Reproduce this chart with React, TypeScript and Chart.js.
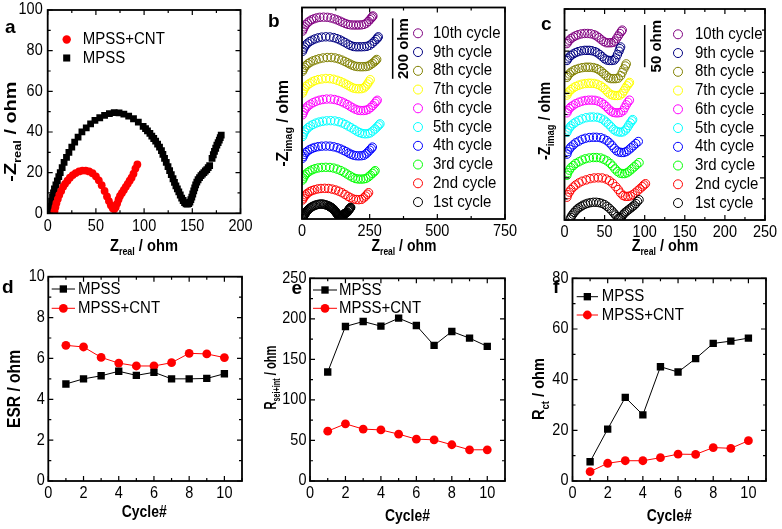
import React, { useEffect, useRef } from "react";
import { Chart, registerables } from "chart.js";

Chart.register(...registerables);

const FONT = "'Liberation Sans', Arial, Helvetica, sans-serif";
const PAGE_W = 782;
const PAGE_H = 529;

// ---------------- Panel a : Nyquist, first cycle ----------------
const A_MPSS_X = [2, 3, 4, 5, 6, 7, 8.5, 10, 11.5, 13, 15, 17, 19.5, 22, 25, 28, 31.5, 35.5, 40, 44.5, 49, 54, 59, 64, 69, 74, 79, 84, 89, 94, 99, 101.5, 103.5, 106, 108, 110, 112, 114, 116, 118, 119.5, 121.2, 123, 124.8, 126.5, 128.2, 130, 131.5, 133, 134.5, 136, 137.5, 139, 140.5, 142, 143.5, 145, 146.3, 147.5, 148.5, 149.5, 150.5, 151.5, 152.5, 153.5, 154.7, 156, 157.5, 159, 160.5, 162, 163.5, 165, 166.5, 168, 170.5, 171.8, 173, 174.3, 175.5, 176.8, 178, 179, 180];
const A_MPSS_Y = [1.5, 3.5, 6, 8, 10, 12, 14, 16, 18, 20, 22.5, 25, 27.5, 30, 32.5, 35, 37.5, 40, 42, 44, 45.7, 47, 48.2, 49, 49.5, 49.4, 48.8, 47.8, 46.5, 44.8, 42.8, 41.7, 40.5, 39.3, 38, 36.8, 35.5, 34, 32.5, 30.8, 29, 27, 25, 23, 21, 19, 17, 15.2, 13.5, 12, 10.5, 9, 7.5, 6.3, 5.3, 4.7, 4.5, 4.8, 5.5, 6.7, 8, 9.5, 11, 12.5, 14, 15.3, 16.5, 17.5, 18.5, 19.3, 20, 20.8, 21.5, 22.5, 23.5, 27, 28.8, 30.5, 32, 33.5, 34.8, 36, 37.2, 38.5];
const A_CNT_X = [7, 8, 9, 10.5, 12, 14, 16, 18, 20.5, 23, 26, 29, 32.5, 36, 39.5, 43, 46.5, 50, 53, 56, 59, 61.5, 63.5, 65.5, 67.5, 69, 70.5, 72, 73.5, 75, 77, 79, 81, 83, 85, 87, 89, 91, 93];
const A_CNT_Y = [1, 3, 5, 7, 9, 11, 13, 14.5, 16, 17.5, 18.8, 19.8, 20.6, 21, 21, 20.6, 19.7, 18.2, 16.2, 13.8, 11, 8.3, 6, 4, 2.5, 2, 3, 4.8, 6.8, 8.5, 10, 11.5, 13, 14.5, 16, 17.5, 19.5, 22, 24];

// ---------------- Panels b, c : cycles ----------------
const CYCLE_LABELS = ["1st cycle", "2nd cycle", "3rd cycle", "4th cycle", "5th cycle", "6th cycle", "7th cycle", "8th cycle", "9th cycle", "10th cycle"];
const CYCLE_COLORS = ["#000000", "#ff0000", "#00ff00", "#0000ff", "#00ffff", "#ff00ff", "#ffff00", "#808000", "#000080", "#800080"];

// vertical display offsets (ohm) used to stack the cycles
const B_OFFSETS = [0, 61, 127, 199, 271, 343, 415, 487, 553, 620];
const C_OFFSETS = [0, 26, 52, 77, 103, 126, 147, 168, 188, 208];

// panel b (MPSS), cycles 2..10 (cycle 1 = A_MPSS)
const B2_X = [2, 5, 9, 14, 20, 28, 37, 47, 58, 70, 84, 98, 111, 124, 136, 148, 159, 170, 180, 190, 200, 210, 220, 228, 235, 241, 246];
const B2_Y = [2, 8, 14, 19, 24, 29, 33, 36, 38.5, 40, 40.5, 40, 38, 35, 31, 26, 20, 14, 9, 5, 3.5, 3, 4, 9, 15, 21, 26];
const B3_X = [2, 5, 9, 14, 21, 29, 38, 48, 60, 73, 88, 103, 117, 130, 143, 155, 166, 177, 187, 197, 207, 217, 227, 236, 245, 253, 260, 266, 270];
const B3_Y = [2, 8, 15, 21, 27, 32, 36, 39.5, 42, 43.5, 44, 43.5, 41.5, 38, 33.5, 28, 22, 16, 11, 7, 5.5, 5, 5.5, 7, 12, 18, 24, 29, 33];
const B4_X = [2, 5, 9, 14, 21, 29, 38, 48, 60, 73, 88, 103, 117, 130, 142, 153, 163, 173, 182, 191, 200, 210, 220, 229, 237, 244, 250, 256, 260];
const B4_Y = [2, 8, 15, 21, 26, 31, 35, 38, 40.5, 42, 42.5, 42, 40, 37, 33, 28.5, 24, 19, 15, 12, 10.5, 10, 10.5, 12, 17, 23, 29, 34, 39];
const B5_X = [2, 5, 9, 15, 22, 31, 41, 52, 64, 77, 91, 106, 121, 135, 148, 160, 171, 182, 193, 203, 213, 223, 233, 243, 252, 261, 270, 278, 284, 288];
const B5_Y = [2, 9, 17, 24, 31, 37, 42, 46.5, 50, 52.5, 54, 54.5, 53.5, 51, 47, 42, 36.5, 31, 25, 19.5, 15, 12, 11, 11.5, 14, 20, 27, 34, 40, 44];
const B6_X = [2, 5, 9, 15, 22, 31, 41, 52, 64, 77, 91, 106, 120, 133, 145, 156, 167, 177, 187, 197, 207, 217, 227, 236, 245, 254, 262, 269, 274, 278];
const B6_Y = [2, 9, 17, 24, 31, 37, 42, 46.5, 50, 52.5, 54, 54, 52.5, 49.5, 45.5, 41, 36, 30.5, 25, 20.5, 17, 16, 16, 17, 20, 26, 33, 40, 46, 50];
const B7_X = [2, 5, 9, 14, 21, 29, 38, 48, 60, 73, 88, 103, 117, 130, 142, 153, 163, 173, 182, 191, 200, 210, 220, 229, 236, 242, 247, 252];
const B7_Y = [2, 9, 16, 23, 29, 34, 39, 43, 46.5, 48.5, 50, 49.5, 47.5, 44, 40, 35.5, 31, 26, 21.5, 18, 16.5, 16, 16.5, 19, 25, 32, 39, 46];
const B8_X = [2, 5, 9, 15, 22, 31, 41, 52, 64, 78, 93, 108, 122, 135, 147, 158, 168, 177, 186, 195, 205, 215, 225, 235, 244, 252, 260, 267, 272, 276];
const B8_Y = [2, 8, 15, 21, 27, 32, 36.5, 40, 43.5, 46, 47.5, 47.5, 46, 43, 39, 34.5, 30, 26, 22, 19, 17.5, 17, 17, 17.5, 19, 23, 28, 33, 37, 41];
const B9_X = [2, 5, 9, 14, 21, 29, 38, 48, 60, 73, 88, 103, 117, 129, 140, 150, 160, 170, 180, 190, 200, 210, 220, 230, 240, 250, 259, 267, 274, 279, 282];
const B9_Y = [2, 9, 16, 23, 29, 34.5, 39, 43, 46.5, 49, 50, 49.5, 47.5, 44, 40, 35.5, 30.5, 25.5, 21, 18, 17, 17, 17, 17.5, 18.5, 22, 28, 35, 41, 46, 50];
const B10_X = [2, 5, 9, 14, 20, 27, 35, 44, 54, 66, 80, 94, 107, 119, 130, 140, 150, 160, 170, 180, 190, 200, 210, 220, 229, 238, 245, 251, 256, 260, 262];
const B10_Y = [2, 9, 16, 23, 29, 34.5, 39, 42.5, 45.5, 47.5, 48, 47.5, 45.5, 42.5, 39, 35, 31, 27, 24, 22.5, 22, 22, 22, 22.5, 24, 28, 34, 40, 45, 49, 52];

// panel c (MPSS+CNT), cycles 2..10 (cycle 1 = A_CNT)
const C2_X = [3, 4, 6, 8, 11, 14, 18, 22, 27, 32, 37, 42, 47, 52, 56, 60, 64, 67, 70, 73, 76, 79, 82, 85, 88, 91, 94, 97, 99, 101];
const C2_Y = [1, 4, 7, 10, 13, 15.5, 18, 20, 21.5, 23, 23.8, 24, 23.8, 22.5, 20.5, 17.5, 13.5, 10, 6, 3, 2, 2, 2.5, 4, 6, 8.5, 11, 13.5, 15.5, 17];
const C3_X = [3, 4, 6, 8, 11, 14, 18, 22, 26, 31, 36, 40, 45, 49, 53, 57, 60, 63, 66, 69, 72, 75, 78, 81, 84, 87, 90, 93];
const C3_Y = [1, 4, 7, 10, 12.5, 15, 17, 19, 20.5, 21.5, 22, 22, 21.5, 20, 18, 15, 12, 8.5, 5.5, 3.5, 3, 3, 4, 6, 8.5, 11, 13.5, 16];
const C4_X = [3, 4, 6, 8, 11, 14, 18, 22, 26, 31, 36, 40, 45, 49, 53, 56, 59, 62, 65, 68, 71, 74, 77, 80, 83, 86, 89, 92];
const C4_Y = [1, 4, 7, 9.5, 12, 14.5, 16.5, 18.5, 19.8, 20.7, 21, 21, 20.5, 19, 17, 14.5, 11.5, 8, 5, 3.5, 3, 3, 4, 6, 8.5, 11, 13.5, 16];
const C5_X = [3, 4, 6, 8, 11, 14, 18, 22, 27, 32, 36, 41, 45, 49, 52, 55, 58, 61, 64, 67, 70, 73, 76, 78, 80, 82, 84, 85];
const C5_Y = [1, 3.5, 6, 8.5, 11, 13, 15, 16.8, 18.2, 18.9, 19, 18.7, 17.5, 15.5, 13, 10.5, 7.5, 4.5, 2.5, 1.5, 1, 1.5, 3.5, 6, 9, 12, 14.5, 16];
const C6_X = [3, 4, 6, 8, 11, 14, 18, 22, 26, 30, 34, 38, 42, 46, 49, 52, 55, 58, 61, 64, 67, 70, 73, 75, 77, 79, 81];
const C6_Y = [1, 3.5, 6, 8, 10, 11.8, 13.5, 14.8, 15.6, 16, 16, 15.8, 14.8, 13, 11, 8.5, 5.5, 3, 1.5, 1, 1, 1.5, 3.5, 7, 10.5, 13.5, 16];
const C7_X = [3, 4, 6, 8, 11, 14, 18, 22, 26, 30, 33, 37, 41, 45, 48, 51, 54, 57, 60, 63, 66, 69, 72, 74, 76, 78, 80, 81];
const C7_Y = [1, 3.5, 5.5, 7.5, 9.5, 11.2, 12.8, 14, 14.7, 15, 15, 14.8, 13.8, 12, 10, 7.5, 4.5, 2, 1, 0.5, 0.5, 1, 3, 6, 9, 12, 14.5, 16];
const C8_X = [3, 4, 6, 8, 11, 14, 18, 22, 26, 29, 32, 36, 40, 43, 46, 49, 52, 55, 58, 61, 64, 67, 70, 72, 74, 76, 77];
const C8_Y = [1, 3, 5, 7, 8.8, 10.3, 11.6, 12.5, 13, 13, 13, 12.6, 11.5, 10, 8, 5.5, 3, 0.5, -0.5, -0.5, -0.5, 0, 3, 7, 11, 14.5, 17];
const C9_X = [3, 4, 6, 8, 11, 14, 17, 21, 25, 28, 31, 34, 38, 41, 44, 47, 50, 53, 56, 59, 62, 64, 66, 68, 69, 70];
const C9_Y = [1, 3, 5, 7, 8.8, 10.3, 11.5, 12.5, 13, 13, 13, 12.6, 11.5, 10, 8, 5.5, 3, 1.5, 1, 1, 1.5, 4, 8, 12, 15, 17];
const C10_X = [3, 4, 6, 8, 11, 14, 17, 21, 25, 29, 33, 37, 40, 43, 46, 49, 52, 55, 58, 61, 63, 65, 67, 69, 71, 72];
const C10_Y = [1, 3, 5, 7, 8.8, 10.3, 11.5, 12.5, 13, 13, 12.6, 11.5, 10, 8, 5.5, 3.5, 2, 2, 2, 2.5, 4, 7, 10, 13, 15.5, 17];

// ---------------- Panels d, e, f : fitted values vs cycle ----------------
const CYCLES = [1, 2, 3, 4, 5, 6, 7, 8, 9, 10];
const ESR_MPSS = [4.75, 5.0, 5.15, 5.37, 5.17, 5.32, 5.0, 5.0, 5.02, 5.25];
const ESR_CNT = [6.64, 6.56, 6.05, 5.77, 5.63, 5.63, 5.79, 6.25, 6.22, 6.04];
const RSEI_MPSS = [134.4, 190.6, 196.7, 191, 200.8, 191.8, 167.2, 184.4, 176.2, 166];
const RSEI_CNT = [61.5, 70.5, 64, 63, 57.8, 51.6, 50.8, 44.7, 38.5, 38.5];
const RCT_MPSS = [7.6, 20.5, 33, 26.1, 45.1, 43, 48.3, 54.3, 55.2, 56.4];
const RCT_CNT = [3.7, 7, 8, 8, 9.2, 10.6, 10.5, 13.2, 12.9, 15.9];

// scale bars (ohm)
const B_BAR = { x: 335, top: 664, len: 200, label: "200 ohm" };
const C_BAR = { x: 100, top: 231, len: 50, label: "50 ohm" };

// ---------------- helpers ----------------
const pts = (xs: number[], ys: number[], off = 0) => {
  const n = Math.min(xs.length, ys.length);
  const out: { x: number; y: number }[] = [];
  for (let i = 0; i < n; i++) out.push({ x: xs[i], y: ys[i] + off });
  return out;
};

const B_XS = [A_MPSS_X, B2_X, B3_X, B4_X, B5_X, B6_X, B7_X, B8_X, B9_X, B10_X];
const B_YS = [A_MPSS_Y, B2_Y, B3_Y, B4_Y, B5_Y, B6_Y, B7_Y, B8_Y, B9_Y, B10_Y];
const C_XS = [A_CNT_X, C2_X, C3_X, C4_X, C5_X, C6_X, C7_X, C8_X, C9_X, C10_X];
const C_YS = [A_CNT_Y, C2_Y, C3_Y, C4_Y, C5_Y, C6_Y, C7_Y, C8_Y, C9_Y, C10_Y];

type Seg = { t: string; sub?: boolean };

// draws bold text with optional subscripts; "len" fits the text to a given length
function drawRich(ctx: CanvasRenderingContext2D, segs: Seg[], x: number, y: number, size: number, rotate: boolean, len?: number) {
  ctx.save();
  ctx.translate(x, y);
  if (rotate) ctx.rotate(-Math.PI / 2);
  const mainF = `bold ${size}px ${FONT}`;
  const subF = `bold ${Math.round(size * 0.62)}px ${FONT}`;
  let total = 0;
  const widths = segs.map((s) => {
    ctx.font = s.sub ? subF : mainF;
    const w = ctx.measureText(s.t).width;
    total += w;
    return w;
  });
  if (len) ctx.scale(len / total, 1);
  let cx = -total / 2;
  ctx.fillStyle = "#000";
  ctx.textBaseline = "middle";
  ctx.textAlign = "left";
  segs.forEach((s, i) => {
    ctx.font = s.sub ? subF : mainF;
    ctx.fillText(s.t, cx, s.sub ? size * 0.36 : 0);
    cx += widths[i];
  });
  ctx.restore();
}

function drawMarker(ctx: CanvasRenderingContext2D, style: string, x: number, y: number, r: number, color: string, filled: boolean) {
  ctx.save();
  ctx.beginPath();
  if (style === "rect") {
    const s = r * Math.SQRT1_2;
    ctx.rect(x - s, y - s, 2 * s, 2 * s);
  } else {
    ctx.arc(x, y, r, 0, Math.PI * 2);
  }
  if (filled) {
    ctx.fillStyle = color;
    ctx.fill();
  } else {
    ctx.strokeStyle = color;
    ctx.lineWidth = 1;
    ctx.stroke();
  }
  ctx.restore();
}

// plain text, vertically stretched by sy
function text(ctx: CanvasRenderingContext2D, s: string, x: number, y: number, font: string, align: CanvasTextAlign = "left", sy = 1) {
  ctx.save();
  ctx.translate(x, y);
  ctx.scale(1, sy);
  ctx.font = font;
  ctx.fillStyle = "#000";
  ctx.textBaseline = "middle";
  ctx.textAlign = align;
  ctx.fillText(s, 0, 0);
  ctx.restore();
}

const LEG_FONT = `15px ${FONT}`;
const LEG_SY = 1.1;

function lineLegend(ctx: CanvasRenderingContext2D, chart: any, x1: number, x2: number, tx: number, ys: number[]) {
  chart.data.datasets.forEach((ds: any, i: number) => {
    const y = ys[i];
    ctx.save();
    ctx.strokeStyle = ds.borderColor;
    ctx.lineWidth = 1;
    ctx.beginPath();
    ctx.moveTo(x1, y);
    ctx.lineTo(x2, y);
    ctx.stroke();
    ctx.restore();
    drawMarker(ctx, ds.pointStyle, (x1 + x2) / 2, y, ds.pointRadius, ds.pointBackgroundColor, true);
    text(ctx, ds.label, tx, y, LEG_FONT, "left", LEG_SY);
  });
}

function cycleLegend(ctx: CanvasRenderingContext2D, chart: any, mx: number, tx: number, y0: number, step: number) {
  const n = chart.data.datasets.length;
  for (let k = 0; k < n; k++) {
    const ds = chart.data.datasets[n - 1 - k];
    const y = y0 + k * step;
    drawMarker(ctx, "circle", mx, y, 4.5, ds.pointBorderColor, false);
    text(ctx, ds.label, tx, y, LEG_FONT, "left", LEG_SY);
  }
}

function scaleBar(ctx: CanvasRenderingContext2D, chart: any, bar: any, tx: number) {
  const xs = chart.scales.x;
  const ys = chart.scales.y;
  const px = xs.getPixelForValue(bar.x);
  const p1 = ys.getPixelForValue(bar.top);
  const p2 = ys.getPixelForValue(bar.top - bar.len);
  ctx.save();
  ctx.strokeStyle = "#000";
  ctx.lineWidth = 1.5;
  ctx.beginPath();
  ctx.moveTo(px, p1);
  ctx.lineTo(px, p2);
  ctx.stroke();
  ctx.restore();
  drawRich(ctx, [{ t: bar.label }], tx, (p1 + p2) / 2, 15, true);
}

type AxisSpec = { min: number; max: number; step: number; major: number; minor: number; labels: boolean; ticks: boolean };

type PanelSpec = {
  id: string;
  area: [number, number, number, number];
  x: AxisSpec;
  y: AxisSpec;
  yPad: number;
  datasets: any[];
  extra: (ctx: CanvasRenderingContext2D, chart: any) => void;
};

const TICK_FONT = `14.5px ${FONT}`;
const TICK_SY = 1.12;

const framePlugin = (spec: PanelSpec) => ({
  id: "frame_" + spec.id,
  afterDatasetsDraw(chart: any) {
    const { ctx, chartArea, scales } = chart;
    const { left, top, right, bottom } = chartArea;
    ctx.save();
    ctx.strokeStyle = "#000";
    ctx.lineWidth = 1.2;
    const drawTicks = (a: AxisSpec, isX: boolean) => {
      const sc = isX ? scales.x : scales.y;
      if (a.ticks) {
        const n = Math.round((a.max - a.min) / a.minor);
        for (let i = 0; i <= n; i++) {
          const v = a.min + i * a.minor;
          const q = v / a.major;
          const major = Math.abs(q - Math.round(q)) < 1e-6;
          const len = major ? 5 : 3;
          const p = sc.getPixelForValue(v);
          ctx.beginPath();
          if (isX) {
            ctx.moveTo(p, bottom);
            ctx.lineTo(p, bottom - len);
            ctx.moveTo(p, top);
            ctx.lineTo(p, top + len);
          } else {
            ctx.moveTo(left, p);
            ctx.lineTo(left + len, p);
            ctx.moveTo(right, p);
            ctx.lineTo(right - len, p);
          }
          ctx.stroke();
        }
      }
      if (a.labels) {
        const n = Math.floor((a.max - a.min) / a.step + 1e-9);
        for (let i = 0; i <= n; i++) {
          const v = a.min + i * a.step;
          const p = sc.getPixelForValue(v);
          const s = String(Math.round(v * 1000) / 1000);
          if (isX) text(ctx, s, p, bottom + 13, TICK_FONT, "center", TICK_SY);
          else text(ctx, s, left - spec.yPad, p, TICK_FONT, "right", TICK_SY);
        }
      }
    };
    drawTicks(spec.x, true);
    drawTicks(spec.y, false);
    ctx.lineWidth = 1.8;
    ctx.strokeRect(left, top, right - left, bottom - top);
    ctx.restore();
  },
  afterDraw(chart: any) {
    spec.extra(chart.ctx, chart);
  },
});

function buildChart(canvas: HTMLCanvasElement, spec: PanelSpec) {
  const [l, t, r, b] = spec.area;
  const YW = 44;
  const XH = 30;
  const axis = (a: AxisSpec, isX: boolean) => ({
    type: "linear",
    position: isX ? "bottom" : "left",
    min: a.min,
    max: a.max,
    grid: { display: false, drawTicks: false },
    border: { display: false },
    ticks: { display: false, stepSize: a.step },
    afterFit: (s: any) => {
      if (isX) s.height = XH;
      else s.width = YW;
    },
  });
  return new Chart(canvas, {
    type: "scatter",
    data: { datasets: spec.datasets },
    options: {
      animation: false,
      responsive: false,
      events: [],
      layout: { padding: { left: l - YW, top: t, right: PAGE_W - r, bottom: PAGE_H - b - XH } },
      plugins: { legend: { display: false }, tooltip: { enabled: false } },
      scales: { x: axis(spec.x, true) as any, y: axis(spec.y, false) as any },
    },
    plugins: [framePlugin(spec)],
  } as any);
}

const scatterSet = (label: string, data: any[], style: string, r: number, color: string) => ({
  label,
  data,
  showLine: false,
  pointStyle: style,
  pointRadius: r,
  pointBackgroundColor: color,
  pointBorderColor: color,
  pointBorderWidth: 0,
});

const cycleSets = (xs: number[][], ys: number[][], offs: number[]) =>
  CYCLE_LABELS.map((label, i) => ({
    label,
    data: pts(xs[i], ys[i], offs[i]),
    showLine: false,
    pointStyle: "circle",
    pointRadius: 4.2,
    pointBackgroundColor: "rgba(0,0,0,0)",
    pointBorderColor: CYCLE_COLORS[i],
    pointBorderWidth: 1,
  }));

const lineSet = (label: string, ys: number[], style: string, r: number, color: string) => ({
  label,
  data: pts(CYCLES, ys),
  showLine: true,
  borderColor: color,
  borderWidth: 1,
  pointStyle: style,
  pointRadius: r,
  pointBackgroundColor: color,
  pointBorderColor: color,
  pointBorderWidth: 0,
});

const CYCLE_AXIS: AxisSpec = { min: 0, max: 11, step: 2, major: 2, minor: 1, labels: true, ticks: true };
const TX = 16.5;
const TY = 17;
const LETTER = `bold 19px ${FONT}`;
const Z_REAL: Seg[] = [{ t: "Z" }, { t: "real", sub: true }, { t: " / ohm" }];
const Z_IMAG: Seg[] = [{ t: "-Z" }, { t: "imag", sub: true }, { t: " / ohm" }];
const CYCLE_TITLE: Seg[] = [{ t: "Cycle#" }];

const PANELS: PanelSpec[] = [
  {
    id: "a",
    area: [47.7, 10, 240.5, 213.3],
    x: { min: 0, max: 200, step: 50, major: 50, minor: 25, labels: true, ticks: true },
    y: { min: 0, max: 100, step: 20, major: 20, minor: 10, labels: true, ticks: true },
    yPad: 5,
    datasets: [
      scatterSet("MPSS+CNT", pts(A_CNT_X, A_CNT_Y), "circle", 3.9, "#ff0000"),
      scatterSet("MPSS", pts(A_MPSS_X, A_MPSS_Y), "rect", 4.8, "#000000"),
    ],
    extra: (ctx, chart) => {
      const ds = chart.data.datasets;
      drawMarker(ctx, "circle", 66.7, 39.5, 4.2, ds[0].pointBackgroundColor, true);
      text(ctx, ds[0].label, 82.7, 39.5, LEG_FONT, "left", LEG_SY);
      drawMarker(ctx, "rect", 66.7, 58, 5, ds[1].pointBackgroundColor, true);
      text(ctx, ds[1].label, 82.7, 58, LEG_FONT, "left", LEG_SY);
      text(ctx, "a", 5, 28, LETTER);
      drawRich(ctx, Z_REAL, 144, 246.5, TX, false, 68);
      drawRich(ctx, [{ t: "-Z" }, { t: "real", sub: true }, { t: " / ohm" }], 11.5, 131.7, TY, true, 100);
    },
  },
  {
    id: "b",
    area: [302, 7.5, 505, 219],
    x: { min: 0, max: 750, step: 250, major: 250, minor: 125, labels: true, ticks: true },
    y: { min: 0, max: 700, step: 100, major: 100, minor: 100, labels: false, ticks: false },
    yPad: 4,
    datasets: cycleSets(B_XS, B_YS, B_OFFSETS),
    extra: (ctx, chart) => {
      cycleLegend(ctx, chart, 418, 433, 33.3, 18.75);
      scaleBar(ctx, chart, B_BAR, 403.5);
      text(ctx, "b", 268, 22, LETTER);
      drawRich(ctx, Z_REAL, 404, 246.5, TX, false, 65);
      drawRich(ctx, Z_IMAG, 283.3, 123.3, TY, true, 87);
    },
  },
  {
    id: "c",
    area: [564.5, 9, 765, 220],
    x: { min: 0, max: 250, step: 50, major: 50, minor: 25, labels: true, ticks: true },
    y: { min: 0, max: 250, step: 50, major: 50, minor: 25, labels: false, ticks: true },
    yPad: 4,
    datasets: cycleSets(C_XS, C_YS, C_OFFSETS),
    extra: (ctx, chart) => {
      cycleLegend(ctx, chart, 678, 695, 34.3, 18.75);
      scaleBar(ctx, chart, C_BAR, 656.7);
      text(ctx, "c", 541, 25, LETTER);
      drawRich(ctx, Z_REAL, 665, 246.5, TX, false, 66.7);
      drawRich(ctx, Z_IMAG, 545, 121, TY, true, 78);
    },
  },
  {
    id: "d",
    area: [48.3, 276.7, 242, 481],
    x: CYCLE_AXIS,
    y: { min: 0, max: 10, step: 2, major: 2, minor: 1, labels: true, ticks: true },
    yPad: 3.5,
    datasets: [lineSet("MPSS", ESR_MPSS, "rect", 5.2, "#000000"), lineSet("MPSS+CNT", ESR_CNT, "circle", 4.4, "#ff0000")],
    extra: (ctx, chart) => {
      lineLegend(ctx, chart, 51.7, 75, 78, [289, 308.3]);
      text(ctx, "d", 2, 287.5, LETTER);
      drawRich(ctx, CYCLE_TITLE, 144.2, 512.5, 17, false, 45);
      drawRich(ctx, [{ t: "ESR / ohm" }], 15, 389, 18, true, 78);
    },
  },
  {
    id: "e",
    area: [310, 278.3, 505, 481],
    x: CYCLE_AXIS,
    y: { min: 0, max: 250, step: 50, major: 50, minor: 25, labels: true, ticks: true },
    yPad: 3.5,
    datasets: [lineSet("MPSS", RSEI_MPSS, "rect", 5.2, "#000000"), lineSet("MPSS+CNT", RSEI_CNT, "circle", 4.4, "#ff0000")],
    extra: (ctx, chart) => {
      lineLegend(ctx, chart, 313, 337, 339, [290, 308.3]);
      text(ctx, "e", 291.5, 289, LETTER);
      drawRich(ctx, CYCLE_TITLE, 407.5, 516.7, 17, false, 45);
      drawRich(ctx, [{ t: "R" }, { t: "sei+int", sub: true }, { t: " / ohm" }], 271, 377.5, TY, true, 64);
    },
  },
  {
    id: "f",
    area: [572.5, 278.3, 766, 481],
    x: CYCLE_AXIS,
    y: { min: 0, max: 80, step: 20, major: 20, minor: 10, labels: true, ticks: true },
    yPad: 4,
    datasets: [lineSet("MPSS", RCT_MPSS, "rect", 5.2, "#000000"), lineSet("MPSS+CNT", RCT_CNT, "circle", 4.4, "#ff0000")],
    extra: (ctx, chart) => {
      lineLegend(ctx, chart, 576.7, 598, 601.7, [296.7, 315]);
      text(ctx, "f", 553, 287.5, LETTER);
      drawRich(ctx, CYCLE_TITLE, 669.2, 516.7, 17, false, 45);
      drawRich(ctx, [{ t: "R" }, { t: "ct", sub: true }, { t: " / ohm" }], 539.5, 389, TY, true, 62);
    },
  },
];

function Panel({ spec }: { spec: PanelSpec }) {
  const ref = useRef<HTMLCanvasElement>(null);
  useEffect(() => {
    const chart = buildChart(ref.current as HTMLCanvasElement, spec);
    return () => chart.destroy();
  }, [spec]);
  return (
    <canvas
      ref={ref}
      width={PAGE_W}
      height={PAGE_H}
      style={{ position: "absolute", left: 0, top: 0, width: PAGE_W, height: PAGE_H }}
    />
  );
}

export default function App() {
  return (
    <div style={{ position: "absolute", left: 0, top: 0, width: PAGE_W, height: PAGE_H, background: "#fff", overflow: "hidden" }}>
      {PANELS.map((p) => (
        <Panel key={p.id} spec={p} />
      ))}
    </div>
  );
}
